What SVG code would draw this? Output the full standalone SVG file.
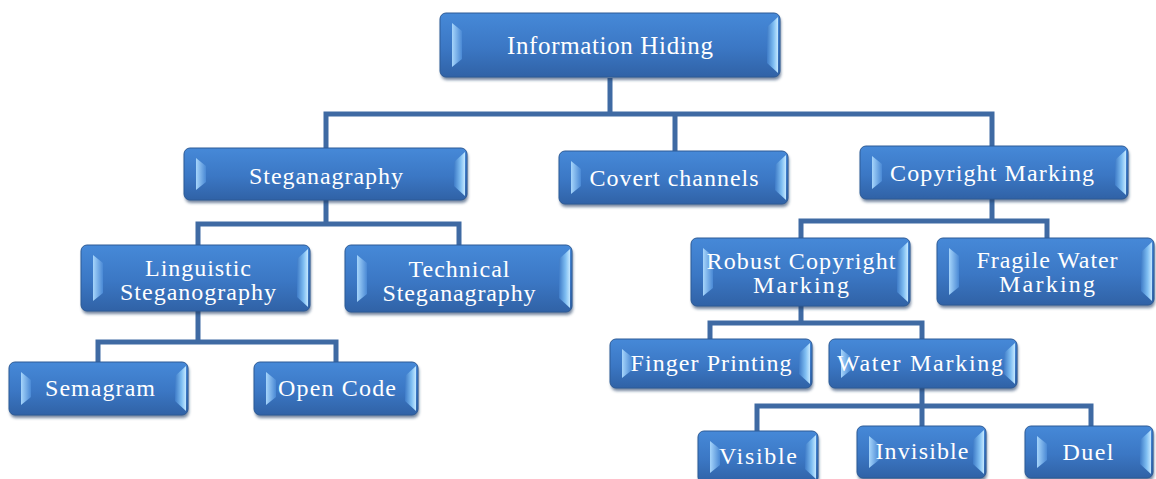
<svg xmlns="http://www.w3.org/2000/svg" width="1156" height="479" viewBox="0 0 1156 479">
<defs>
<linearGradient id="face" x1="0" y1="0" x2="0" y2="1">
<stop offset="0" stop-color="#4689d8"/>
<stop offset="0.55" stop-color="#3b77c4"/>
<stop offset="1" stop-color="#3062a6"/>
</linearGradient>
<linearGradient id="gl" x1="0" y1="0" x2="1" y2="0">
<stop offset="0" stop-color="#a6d5fb"/>
<stop offset="1" stop-color="#4a89d5"/>
</linearGradient>
<linearGradient id="gr" x1="0" y1="0" x2="1" y2="0">
<stop offset="0" stop-color="#3f7cc8"/>
<stop offset="0.6" stop-color="#7fbef2"/>
<stop offset="1" stop-color="#c4e8ff"/>
</linearGradient>
<filter id="blur" x="-10%" y="-20%" width="120%" height="140%">
<feGaussianBlur stdDeviation="1.5"/>
</filter>
</defs>
<style>
.sh{fill:#1d3a63;opacity:.6;filter:url(#blur)}
.box{fill:url(#face);stroke:#2c5a96;stroke-width:1}
.fl{fill:url(#gl)}
.fr{fill:url(#gr)}
.t{font-family:"Liberation Serif","Times New Roman",serif;font-size:24px;fill:#ffffff;text-anchor:middle}
.big{font-size:25px}
.c{fill:none;stroke:#3f6aa3;stroke-width:5;stroke-linejoin:miter;stroke-linecap:butt}
</style>
<g id="connectors">
<path class="c" d="M610,78 V114 M326,148 V114 H992 V146 M675,114 V151"/>
<path class="c" d="M326,200 V224 M198,245 V224 H459 V245"/>
<path class="c" d="M198,311 V342 M98,362 V342 H336 V362"/>
<path class="c" d="M992,199 V221 M801,238 V221 H1047 V238"/>
<path class="c" d="M801,306 V323 M710,339 V323 H922 V339"/>
<path class="c" d="M922,388 V406 M757,431 V406 H1091 V426 M922,406 V426"/>
</g>
<g id="n-information-hiding">
<rect class="sh" x="441" y="16" width="340" height="64" rx="6"/>
<rect class="box" x="440" y="13" width="340" height="64" rx="6"/>
<polygon class="fl" points="452,23 462,31 462,59 452,67"/>
<polygon class="fr" points="778,17 767,27 767,63 778,73"/>
<text class="t big" x="610" y="54" textLength="206" lengthAdjust="spacing">Information Hiding</text>
</g>
<g id="n-steganagraphy">
<rect class="sh" x="185" y="151" width="283" height="52" rx="6"/>
<rect class="box" x="184" y="148" width="283" height="52" rx="6"/>
<polygon class="fl" points="196,158 206,166 206,182 196,190"/>
<polygon class="fr" points="465,152 454,162 454,186 465,196"/>
<text class="t" x="326" y="184" textLength="154" lengthAdjust="spacing">Steganagraphy</text>
</g>
<g id="n-covert-channels">
<rect class="sh" x="560" y="154" width="229" height="53" rx="6"/>
<rect class="box" x="559" y="151" width="229" height="53" rx="6"/>
<polygon class="fl" points="571,161 581,169 581,186 571,194"/>
<polygon class="fr" points="786,155 775,165 775,190 786,200"/>
<text class="t" x="674" y="186" textLength="169" lengthAdjust="spacing">Covert channels</text>
</g>
<g id="n-copyright-marking">
<rect class="sh" x="861" y="149" width="268" height="53" rx="6"/>
<rect class="box" x="860" y="146" width="268" height="53" rx="6"/>
<polygon class="fl" points="872,156 882,164 882,181 872,189"/>
<polygon class="fr" points="1126,150 1115,160 1115,185 1126,195"/>
<text class="t" x="992" y="181" textLength="204" lengthAdjust="spacing">Copyright Marking</text>
</g>
<g id="n-linguistic">
<rect class="sh" x="82" y="248" width="229" height="66" rx="6"/>
<rect class="box" x="81" y="245" width="229" height="66" rx="6"/>
<polygon class="fl" points="93,255 103,263 103,293 93,301"/>
<polygon class="fr" points="308,249 297,259 297,297 308,307"/>
<text class="t" x="198" y="276" textLength="106" lengthAdjust="spacing">Linguistic</text>
<text class="t" x="198" y="300" textLength="156" lengthAdjust="spacing">Steganography</text>
</g>
<g id="n-technical">
<rect class="sh" x="346" y="248" width="227" height="67" rx="6"/>
<rect class="box" x="345" y="245" width="227" height="67" rx="6"/>
<polygon class="fl" points="357,255 367,263 367,294 357,302"/>
<polygon class="fr" points="570,249 559,259 559,298 570,308"/>
<text class="t" x="459" y="277" textLength="101" lengthAdjust="spacing">Technical</text>
<text class="t" x="459" y="301" textLength="153" lengthAdjust="spacing">Steganagraphy</text>
</g>
<g id="n-robust">
<rect class="sh" x="692" y="241" width="219" height="68" rx="6"/>
<rect class="box" x="691" y="238" width="219" height="68" rx="6"/>
<polygon class="fl" points="703,248 713,256 713,288 703,296"/>
<polygon class="fr" points="908,242 897,252 897,292 908,302"/>
<text class="t" x="801" y="269" textLength="189" lengthAdjust="spacing">Robust Copyright</text>
<text class="t" x="801" y="293" textLength="96" lengthAdjust="spacing">Marking</text>
</g>
<g id="n-fragile">
<rect class="sh" x="938" y="241" width="217" height="67" rx="6"/>
<rect class="box" x="937" y="238" width="217" height="67" rx="6"/>
<polygon class="fl" points="949,248 959,256 959,287 949,295"/>
<polygon class="fr" points="1152,242 1141,252 1141,291 1152,301"/>
<text class="t" x="1047" y="268" textLength="141" lengthAdjust="spacing">Fragile Water</text>
<text class="t" x="1047" y="292" textLength="96" lengthAdjust="spacing">Marking</text>
</g>
<g id="n-finger-printing">
<rect class="sh" x="611" y="342" width="202" height="49" rx="6"/>
<rect class="box" x="610" y="339" width="202" height="49" rx="6"/>
<polygon class="fl" points="622,349 632,357 632,370 622,378"/>
<polygon class="fr" points="810,343 799,353 799,374 810,384"/>
<text class="t" x="711" y="371" textLength="161" lengthAdjust="spacing">Finger Printing</text>
</g>
<g id="n-water-marking">
<rect class="sh" x="830" y="342" width="188" height="49" rx="6"/>
<rect class="box" x="829" y="339" width="188" height="49" rx="6"/>
<polygon class="fl" points="841,349 851,357 851,370 841,378"/>
<polygon class="fr" points="1015,343 1004,353 1004,374 1015,384"/>
<text class="t" x="920" y="371" textLength="166" lengthAdjust="spacing">Water Marking</text>
</g>
<g id="n-semagram">
<rect class="sh" x="10" y="365" width="179" height="53" rx="6"/>
<rect class="box" x="9" y="362" width="179" height="53" rx="6"/>
<polygon class="fl" points="21,372 31,380 31,397 21,405"/>
<polygon class="fr" points="186,366 175,376 175,401 186,411"/>
<text class="t" x="100" y="396" textLength="110" lengthAdjust="spacing">Semagram</text>
</g>
<g id="n-open-code">
<rect class="sh" x="255" y="365" width="164" height="53" rx="6"/>
<rect class="box" x="254" y="362" width="164" height="53" rx="6"/>
<polygon class="fl" points="266,372 276,380 276,397 266,405"/>
<polygon class="fr" points="416,366 405,376 405,401 416,411"/>
<text class="t" x="337" y="396" textLength="118" lengthAdjust="spacing">Open Code</text>
</g>
<g id="n-visible">
<rect class="sh" x="699" y="434" width="120" height="52" rx="6"/>
<rect class="box" x="698" y="431" width="120" height="52" rx="6"/>
<polygon class="fl" points="710,441 720,449 720,465 710,473"/>
<polygon class="fr" points="816,435 805,445 805,469 816,479"/>
<text class="t" x="758" y="464" textLength="78" lengthAdjust="spacing">Visible</text>
</g>
<g id="n-invisible">
<rect class="sh" x="858" y="429" width="129" height="52" rx="6"/>
<rect class="box" x="857" y="426" width="129" height="52" rx="6"/>
<polygon class="fl" points="869,436 879,444 879,460 869,468"/>
<polygon class="fr" points="984,430 973,440 973,464 984,474"/>
<text class="t" x="922" y="459" textLength="93" lengthAdjust="spacing">Invisible</text>
</g>
<g id="n-duel">
<rect class="sh" x="1026" y="429" width="128" height="52" rx="6"/>
<rect class="box" x="1025" y="426" width="128" height="52" rx="6"/>
<polygon class="fl" points="1037,436 1047,444 1047,460 1037,468"/>
<polygon class="fr" points="1151,430 1140,440 1140,464 1151,474"/>
<text class="t" x="1088" y="460" textLength="51" lengthAdjust="spacing">Duel</text>
</g>
</svg>
